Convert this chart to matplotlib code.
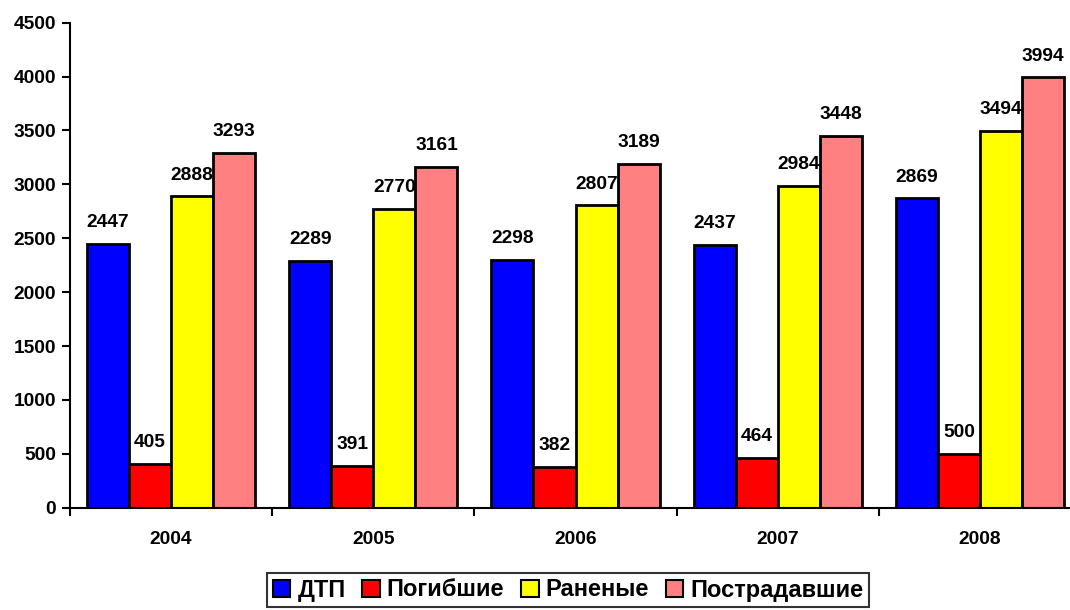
import matplotlib.pyplot as plt
import numpy as np

years = ['2004', '2005', '2006', '2007', '2008']
series_names = ['ДТП', 'Погибшие', 'Раненые', 'Пострадавшие']
dtp = [2447, 2289, 2298, 2437, 2869]
killed = [405, 391, 382, 464, 500]
injured = [2888, 2770, 2807, 2984, 3494]
victims = [3293, 3161, 3189, 3448, 3994]
colors = ['#0000FF', '#FF0000', '#FFFF00', '#FF8080']

plt.rcParams['font.family'] = ['Liberation Sans', 'DejaVu Sans']
plt.rcParams['font.weight'] = 'bold'

fig = plt.figure(figsize=(10.7, 6.1), dpi=100)
ax = fig.add_axes([70/1070, 1-507.7/610, 1011/1070, 485/610])

x = np.arange(len(years))
w = 0.208
for i, (vals, name) in enumerate(zip([dtp, killed, injured, victims], series_names)):
    pos = x - 1.5*w + i*w
    ax.bar(pos, vals, w, color=colors[i], edgecolor='black', linewidth=2, label=name)
    for xb, v in zip(pos, vals):
        ax.annotate(str(v), (xb, v), xytext=(0, 12), textcoords='offset points',
                    ha='center', va='baseline', fontsize=13.8, fontweight='bold')

ax.set_xlim(-0.5, 4.5)
ax.set_ylim(0, 4500)
ax.set_yticks(np.arange(0, 4501, 500))
ax.set_xticks(x)
ax.set_xticklabels(years)
ax.set_xticks(np.arange(-0.5, 5, 1), minor=True)
ax.tick_params(axis='x', which='major', length=0, pad=17, labelsize=13.8)
ax.tick_params(axis='x', which='minor', length=6, width=1.5, direction='out')
ax.tick_params(axis='y', length=6, width=1.5, direction='out', labelsize=13.8, pad=4)
for lab in ax.get_xticklabels() + ax.get_yticklabels():
    lab.set_fontweight('bold')
ax.spines['top'].set_visible(False)
ax.spines['right'].set_visible(False)
ax.spines['left'].set_linewidth(1.5)
ax.spines['bottom'].set_linewidth(1.5)

leg = fig.legend(loc='center', bbox_to_anchor=(568/1070, 1-590/610), ncol=4,
                 frameon=True, fancybox=False, edgecolor='black',
                 prop={'weight': 'bold', 'size': 17},
                 handlelength=0.75, handleheight=0.75, handletextpad=0.3,
                 columnspacing=0.7, borderpad=0.25)
leg.get_frame().set_linewidth(1.5)
for h in leg.legend_handles:
    h.set_linewidth(1.5)

fig.savefig('out.png', dpi=100)
